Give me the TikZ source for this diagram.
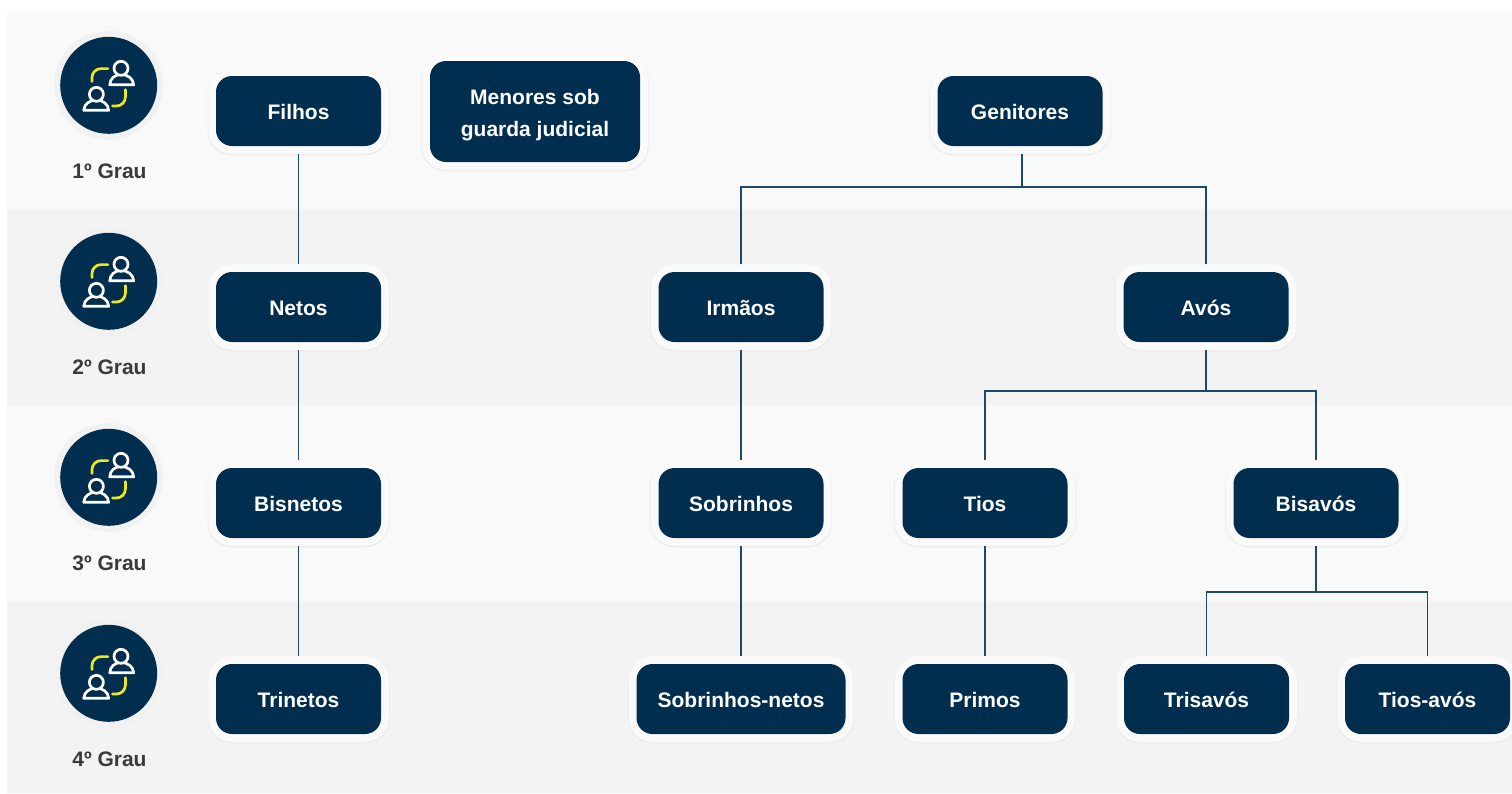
\documentclass[tikz,border=0pt]{standalone}
\usepackage{fontspec}
\setmainfont{Liberation Sans}
\definecolor{navy}{HTML}{012D4E}
\definecolor{bandA}{HTML}{F9F9F9}
\definecolor{bandB}{HTML}{F3F3F3}
\definecolor{ring}{HTML}{F1F1F1}
\definecolor{halo}{HTML}{FAFAFA}
\definecolor{haloShade}{HTML}{ECECEC}
\definecolor{wire}{HTML}{1B4A6C}
\definecolor{gold}{HTML}{EDE91C}
\definecolor{grautext}{HTML}{3A3A3A}
\tikzset{
  x=1pt,y=-1pt,
  kin/.style={rectangle,rounded corners=16pt,minimum height=70pt,minimum width=165pt,inner sep=0pt,
    outer sep=8pt,text=white,align=center,font=\fontsize{21}{32}\selectfont\bfseries,fill=navy,
    text height=17pt,text depth=0pt,
    preaction={draw=haloShade,line width=17pt,transform canvas={yshift=-0.8pt}},
    preaction={draw=halo,line width=15.5pt}},
  wirel/.style={draw=wire,line width=1.6pt},
  grau/.style={text=grautext,font=\fontsize{21}{24}\selectfont\bfseries,inner sep=0pt},
  pics/kinicon/.style={code={
    \fill[ring] (0,0) circle[radius=54.5];
    \fill[navy] (0,0) circle[radius=48.5];
    \begin{scope}[line width=2.7pt,line cap=round,line join=round]
      \draw[gold,rounded corners=9pt] (-16.7,-3.7) -- (-16.7,-16.7) -- (-0.7,-16.7);
      \draw[gold,rounded corners=9pt] (16.7,4.3) -- (16.7,20.7) -- (3.7,20.7);
      \draw[white] (1,-0.5) .. controls (1.5,-7) and (6,-10.5) .. (12.5,-11) .. controls (19,-10.5) and (24.5,-7) .. (25,-0.5) -- cycle;
      \filldraw[fill=navy,draw=white] (12.3,-17) circle[radius=7];
      \draw[white] (-25,25) .. controls (-24.5,18.5) and (-19,15) .. (-12.5,14.5) .. controls (-6,15) and (-0.5,18.5) .. (0,25) -- cycle;
      \filldraw[fill=navy,draw=white] (-12.3,9) circle[radius=7];
    \end{scope}
  }}
}
\begin{document}
\begin{tikzpicture}
\useasboundingbox (0,0) rectangle (1512,793);
\fill[white] (0,0) rectangle (1512,793);
\fill[bandA] (7,13) rectangle (1512,209);
\fill[bandB] (7,209) rectangle (1512,405);
\fill[bandA] (7,405) rectangle (1512,601);
\fill[bandB] (7,601) rectangle (1512,793);

\pic at (108.7,85.3) {kinicon};
\pic at (108.7,281.3) {kinicon};
\pic at (108.7,477.3) {kinicon};
\pic at (108.7,673.3) {kinicon};
\node[grau] (g1) at (109.5,171) {1º Grau};
\node[grau] (g2) at (109.5,367) {2º Grau};
\node[grau] (g3) at (109.5,563) {3º Grau};
\node[grau] (g4) at (109.5,759) {4º Grau};

\node[kin] (filhos) at (298.5,111) {Filhos};
\node[kin,minimum width=210pt,minimum height=101pt,text height=50.4pt,text depth=0pt] (menores) at (535,111.5) {Menores sob\\guarda judicial};
\node[kin] (genitores) at (1020,111) {Genitores};
\node[kin] (netos) at (298.5,307) {Netos};
\node[kin] (irmaos) at (741,307) {Irmãos};
\node[kin] (avos) at (1206,307) {Avós};
\node[kin] (bisnetos) at (298.5,503) {Bisnetos};
\node[kin] (sobrinhos) at (741,503) {Sobrinhos};
\node[kin] (tios) at (985,503) {Tios};
\node[kin] (bisavos) at (1316,503) {Bisavós};
\node[kin] (trinetos) at (298.5,699) {Trinetos};
\node[kin,minimum width=209pt] (sobnetos) at (741,699) {Sobrinhos-netos};
\node[kin] (primos) at (985,699) {Primos};
\node[kin] (trisavos) at (1206.5,699) {Trisavós};
\node[kin] (tiosavos) at (1427.5,699) {Tios-avós};

\coordinate (jg) at (1022,187);
\coordinate (ja) at (1206,391);
\coordinate (jb) at (1316,592);

\draw[wirel] (filhos) -- (netos);
\draw[wirel] (netos) -- (bisnetos);
\draw[wirel] (bisnetos) -- (trinetos);
\draw[wirel] (irmaos) -- (sobrinhos);
\draw[wirel] (sobrinhos) -- (sobnetos);
\draw[wirel] (tios) -- (primos);
\draw[wirel] (jg) -- (jg |- genitores.south);
\draw[wirel] (irmaos.north) |- (jg);
\draw[wirel] (avos.north) |- (jg);
\draw[wirel] (avos.south) -- (ja);
\draw[wirel] (tios.north) |- (ja);
\draw[wirel] (bisavos.north) |- (ja);
\draw[wirel] (bisavos.south) -- (jb);
\draw[wirel] (trisavos.north) |- (jb);
\draw[wirel] (tiosavos.north) |- (jb);
\end{tikzpicture}
\end{document}
